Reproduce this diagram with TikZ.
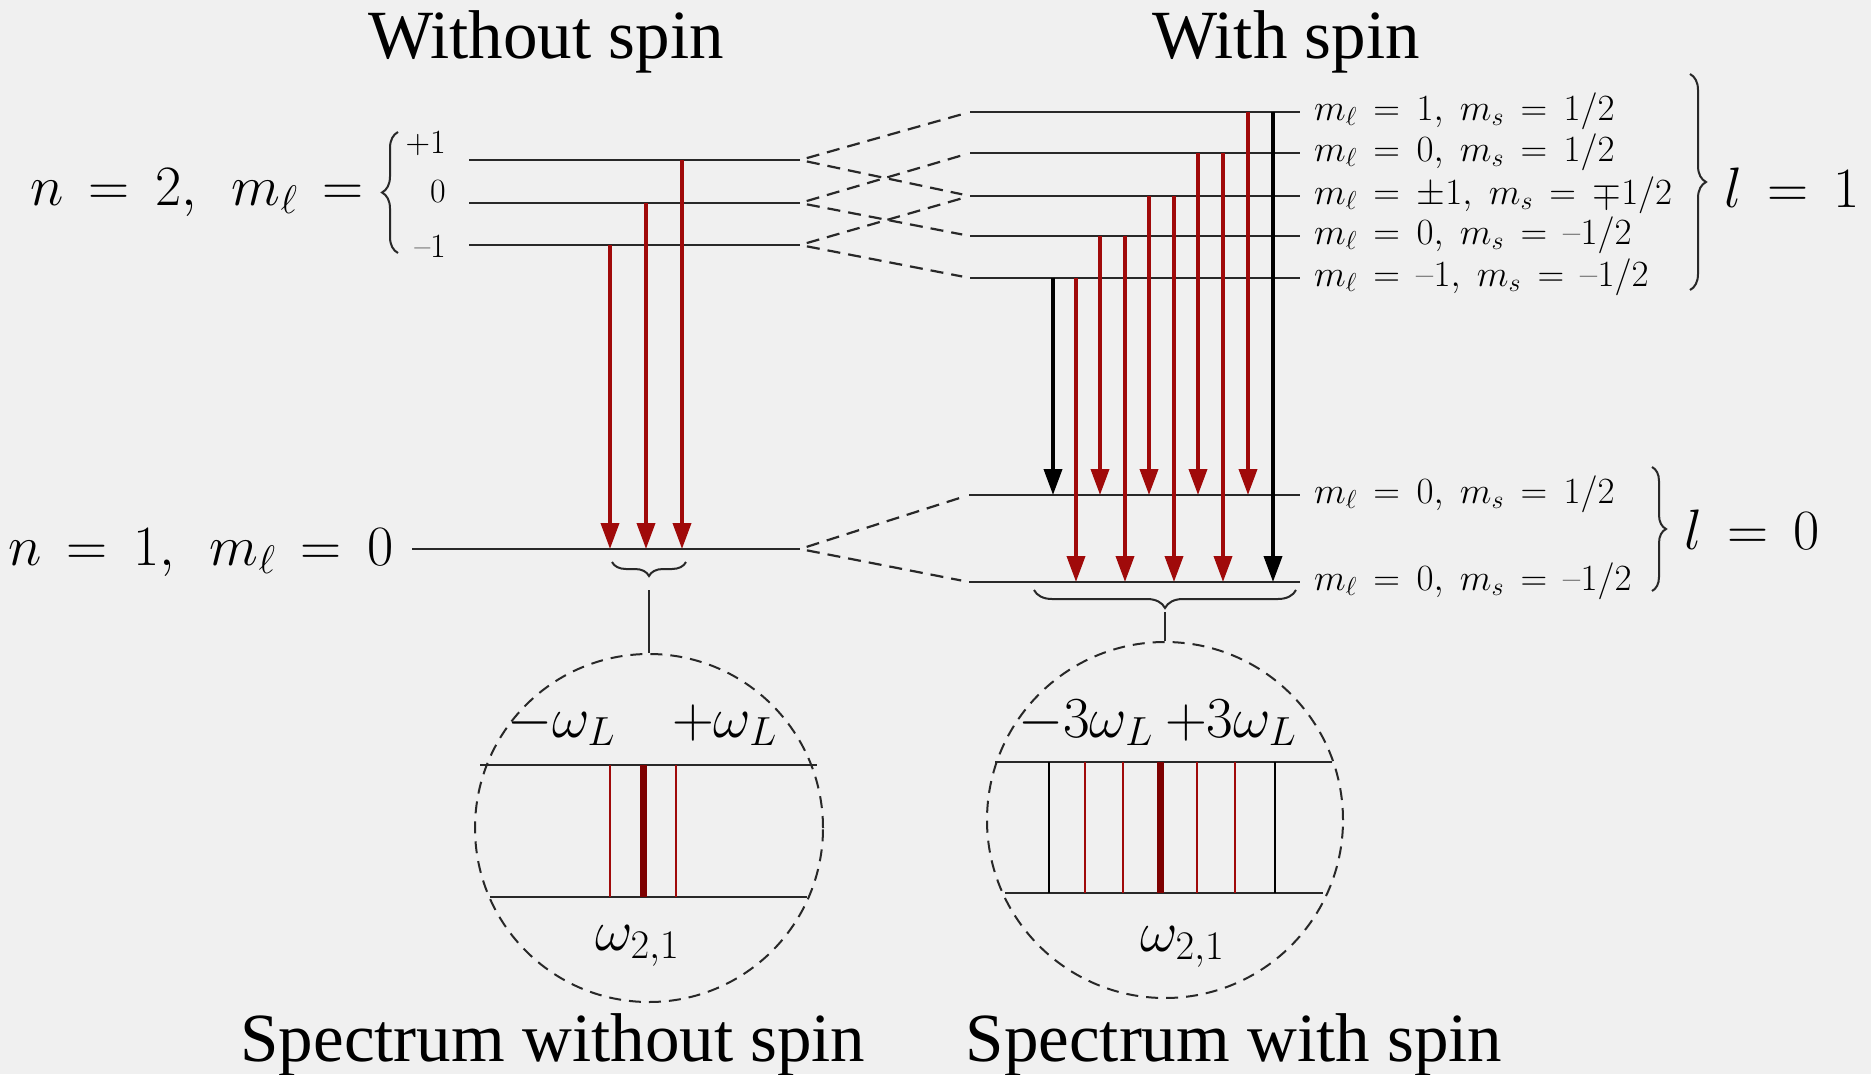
\RequirePackage{fix-cm}
\documentclass[tikz,border=0pt]{standalone}
\usepackage{fontspec}
\newfontfamily\titlefont{Liberation Serif}
\usetikzlibrary{arrows.meta,decorations.pathreplacing,calc}
\definecolor{bgc}{RGB}{240,240,240}
\definecolor{lvl}{RGB}{40,40,40}
\definecolor{arr}{RGB}{160,10,10}
\definecolor{darr}{RGB}{125,0,0}
\newcommand\shm{\mbox{–}}
\begin{document}
\begin{tikzpicture}[x=1pt,y=-1pt,
  lvline/.style={draw=lvl,line width=2.6pt},
  splitline/.style={draw=lvl,line width=2.2pt,dash pattern=on 13pt off 8pt,shorten <=7pt,shorten >=8pt},
  redarrow/.style={draw=arr,line width=3.8pt,-{Triangle[length=26pt,width=18pt]}},
  blkarrow/.style={draw=black,line width=3.8pt,-{Triangle[length=26pt,width=18pt]}},
  bigmath/.style={inner sep=0,font=\fontsize{57}{60}\selectfont,anchor=base west},
  lab/.style={inner sep=0,font=\fontsize{37}{40}\selectfont,anchor=base west},
  mlab/.style={inner sep=0,font=\fontsize{34}{40}\selectfont,anchor=base east},
  ttl/.style={inner sep=0,font=\titlefont\fontsize{69}{72}\selectfont,anchor=base},
  clab/.style={inner sep=0,font=\fontsize{58}{60}\selectfont,anchor=base west},
  specc/.style={circle,draw=lvl,line width=2pt,dash pattern=on 12pt off 8pt,minimum size=#1,inner sep=0},
  bracestyle/.style={draw=lvl,line width=2pt,decorate,decoration={brace,amplitude=#1}},
  specline/.style={draw=lvl,line width=2.4pt},
  thinred/.style={draw=arr,line width=2pt},
  thickred/.style={draw=darr,line width=7pt},
  thinblk/.style={draw=black,line width=2pt},
  tie/.style={draw=lvl,line width=2pt}
]
\fill[bgc] (0,0) rectangle (1871,1074);
\useasboundingbox (0,0) rectangle (1871,1074);

% titles
\node[ttl] (tw) at (546,58) {Without spin};
\node[ttl] (tws) at (1286,58) {With spin};
\node[ttl] (tsw) at (553,1061) {Spectrum without spin};
\node[ttl] (tss) at (1234,1061) {Spectrum with spin};

% left labels
\node[bigmath] (n2) at (30,205) {$n \,=\, 2,\;\, m_{\ell} \,=$};
\node[bigmath] (n1) at (8,565) {$n \,=\, 1,\;\, m_{\ell} \,=\, 0$};
\node[mlab] (lp1) at (446,153) {+1};
\node[mlab] (lp0) at (446,202) {0};
\node[mlab] (lpm) at (446,257) {–1};
\coordinate (bn1) at (398,253); \coordinate (bn2) at (398,132);
\draw[bracestyle=16] (bn1) -- (bn2);

% left levels
\coordinate (p1a) at (469,160); \coordinate (p1b) at (800,160);
\coordinate (p0a) at (469,203); \coordinate (p0b) at (800,203);
\coordinate (pma) at (469,245); \coordinate (pmb) at (800,245);
\coordinate (ga) at (412,549);  \coordinate (gb) at (800,549);
\draw[lvline] (p1a) -- (p1b);
\draw[lvline] (p0a) -- (p0b);
\draw[lvline] (pma) -- (pmb);
\draw[lvline] (ga) -- (gb);

% right levels
\coordinate (ra1) at (970,112); \coordinate (rb1) at (1300,112);
\coordinate (ra2) at (970,153); \coordinate (rb2) at (1300,153);
\coordinate (ra3) at (970,196); \coordinate (rb3) at (1300,196);
\coordinate (ra4) at (970,236); \coordinate (rb4) at (1300,236);
\coordinate (ra5) at (970,278); \coordinate (rb5) at (1300,278);
\coordinate (sa1) at (969,495); \coordinate (sb1) at (1300,495);
\coordinate (sa2) at (969,582); \coordinate (sb2) at (1300,582);
\foreach \i in {1,...,5} {\draw[lvline] (ra\i) -- (rb\i);}
\draw[lvline] (sa1) -- (sb1);
\draw[lvline] (sa2) -- (sb2);

% splitting (dashed)
\draw[splitline] (p1b) -- (ra1);
\draw[splitline] (p1b) -- (ra3);
\draw[splitline] (p0b) -- (ra2);
\draw[splitline] (p0b) -- (ra4);
\draw[splitline] (pmb) -- (ra3);
\draw[splitline] (pmb) -- (ra5);
\draw[splitline] (gb) -- (sa1);
\draw[splitline] (gb) -- (sa2);

% right labels
\node[lab] (lab1) at (1314,120) {$m_{\ell} \,=\, 1,\; m_s \,=\, 1/2$};
\node[lab] (lab2) at (1314,161) {$m_{\ell} \,=\, 0,\; m_s \,=\, 1/2$};
\node[lab] (lab3) at (1314,204) {$m_{\ell} \,=\, \pm 1,\; m_s \,=\, \mp 1/2$};
\node[lab] (lab4) at (1314,244) {$m_{\ell} \,=\, 0,\; m_s \,=\, \shm 1/2$};
\node[lab] (lab5) at (1314,286) {$m_{\ell} \,=\, \shm 1,\; m_s \,=\, \shm 1/2$};
\node[lab] (lab6) at (1314,503) {$m_{\ell} \,=\, 0,\; m_s \,=\, 1/2$};
\node[lab] (lab7) at (1314,590) {$m_{\ell} \,=\, 0,\; m_s \,=\, \shm 1/2$};

\coordinate (bl1a) at (1690,74); \coordinate (bl1b) at (1690,290);
\draw[bracestyle=16] (bl1a) -- (bl1b);
\node[bigmath] (L1) at (1724,207) {$l \,=\, 1$};
\coordinate (bl0a) at (1652,467); \coordinate (bl0b) at (1652,591);
\draw[bracestyle=14] (bl0a) -- (bl0b);
\node[bigmath] (L0) at (1684,549) {$l \,=\, 0$};

% left arrows
\coordinate (xa) at (610,0); \coordinate (xb) at (646,0); \coordinate (xc) at (682,0);
\draw[redarrow] (xa |- pma) -- (xa |- ga);
\draw[redarrow] (xb |- p0a) -- (xb |- ga);
\draw[redarrow] (xc |- p1a) -- (xc |- ga);

% right arrows
\coordinate (c1) at (1053,0);  \coordinate (c2) at (1076,0);
\coordinate (c3) at (1100,0);  \coordinate (c4) at (1125,0);
\coordinate (c5) at (1149,0);  \coordinate (c6) at (1174,0);
\coordinate (c7) at (1198,0);  \coordinate (c8) at (1223,0);
\coordinate (c9) at (1248,0);  \coordinate (c10) at (1273,0);
\draw[blkarrow] (c1 |- ra5) -- (c1 |- sa1);
\draw[redarrow] (c2 |- ra5) -- (c2 |- sa2);
\draw[redarrow] (c3 |- ra4) -- (c3 |- sa1);
\draw[redarrow] (c4 |- ra4) -- (c4 |- sa2);
\draw[redarrow] (c5 |- ra3) -- (c5 |- sa1);
\draw[redarrow] (c6 |- ra3) -- (c6 |- sa2);
\draw[redarrow] (c7 |- ra2) -- (c7 |- sa1);
\draw[redarrow] (c8 |- ra2) -- (c8 |- sa2);
\draw[redarrow] (c9 |- ra1) -- (c9 |- sa1);
\draw[blkarrow] (c10 |- ra1) -- (c10 |- sa2);

% braces under levels
\coordinate (bl1) at (686,562); \coordinate (bl2) at (612,562);
\draw[bracestyle=14] (bl1) -- (bl2);
\coordinate (br1) at (1296,590); \coordinate (br2) at (1034,590);
\draw[bracestyle=18] (br1) -- (br2);

% spectra
\node[specc=348pt] (specL) at (649,828) {};
\node[specc=356pt] (specR) at (1165,820) {};
\coordinate (bLtip) at (649,590);
\coordinate (bRtip) at (1165,612);
\draw[tie] (bLtip) -- (specL.north);
\draw[tie] (bRtip) -- (specR.north);

% left spectrum content
\draw[specline] ($(specL)+(-169,-63)$) -- ($(specL)+(168,-63)$);
\draw[specline] ($(specL)+(-159,69)$) -- ($(specL)+(158,69)$);
\draw[thinred] ($(specL)+(-39,-63)$) -- ($(specL)+(-39,69)$);
\draw[thinred] ($(specL)+(27,-63)$) -- ($(specL)+(27,69)$);
\draw[thickred] ($(specL)+(-6,-63)$) -- ($(specL)+(-6,69)$);
\node[clab] (wl1) at (507,737) {$-\omega_L$};
\node[clab] (wl2) at (672,737) {$+\omega_L$};
\node[clab] (wl3) at (595,950) {$\omega_{2,1}$};

% right spectrum content
\draw[specline] ($(specR)+(-170,-58)$) -- ($(specR)+(167,-58)$);
\draw[specline] ($(specR)+(-160,73)$) -- ($(specR)+(158,73)$);
\draw[thinblk] ($(specR)+(-116,-58)$) -- ($(specR)+(-116,73)$);
\draw[thinblk] ($(specR)+(110,-58)$) -- ($(specR)+(110,73)$);
\draw[thinred] ($(specR)+(-80,-58)$) -- ($(specR)+(-80,73)$);
\draw[thinred] ($(specR)+(-42,-58)$) -- ($(specR)+(-42,73)$);
\draw[thinred] ($(specR)+(32,-58)$) -- ($(specR)+(32,73)$);
\draw[thinred] ($(specR)+(70,-58)$) -- ($(specR)+(70,73)$);
\draw[thickred] ($(specR)+(-5,-58)$) -- ($(specR)+(-5,73)$);
\node[clab] (wr1) at (1018,737) {$-3\omega_L$};
\node[clab] (wr2) at (1165,737) {$+3\omega_L$};
\node[clab] (wr3) at (1140,951) {$\omega_{2,1}$};
\end{tikzpicture}
\end{document}
